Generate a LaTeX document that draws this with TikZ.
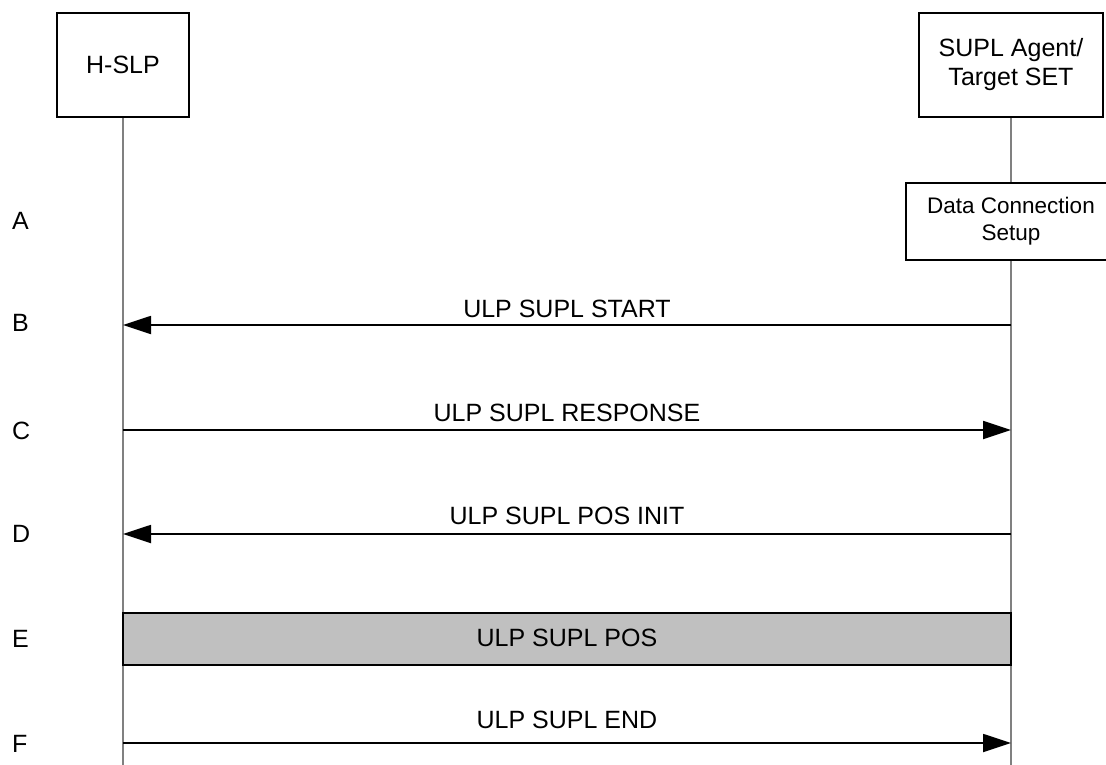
\documentclass[tikz,border=0pt]{standalone}
\usepackage{fontspec}
\setmainfont{Liberation Sans}
\usetikzlibrary{arrows.meta,backgrounds}
\begin{document}
\begin{tikzpicture}[x=1pt,y=-1pt,
  every node/.style={font=\fontsize{25}{29}\selectfont, inner sep=0pt},
  entity/.style={draw=black, line width=1.8pt, fill=white, align=center},
  lifeline/.style={draw=gray, line width=1.4pt},
  msg/.style={draw=black, line width=1.8pt, -{Triangle[length=28pt,width=18pt]}},
  rowlbl/.style={anchor=base west},
  msglbl/.style={anchor=base},
  posbox/.style={draw=black, line width=1.6pt, fill={rgb,255:red,192;green,192;blue,192}},
  smalltext/.style={font=\fontsize{22.5}{27}\selectfont}
]
\useasboundingbox (0,0) rectangle (1106,765);

% entities
\node[entity, minimum width=132pt, minimum height=104pt] (hslp) at (123,65) {H-SLP};
\node[entity, minimum width=184pt, minimum height=104pt] (agent) at (1011,65) {SUPL Agent/\\Target SET};
\node[entity, smalltext, minimum width=210pt, minimum height=77pt] (dcs) at (1011,221.5) {Data Connection\\Setup};

% lifeline bottoms
\coordinate (hbot) at (123,765);
\coordinate (abot) at (1011,765);

\begin{scope}[on background layer]
  \fill[white] (0,0) rectangle (1106,765);
  \draw[lifeline] (hslp.south) -- (hbot);
  \draw[lifeline] (agent.south) -- (abot);
\end{scope}

% message end points
\coordinate (bL) at (123,325);   \coordinate (bR) at (1011,325);
\coordinate (cL) at (123,430);   \coordinate (cR) at (1011,430);
\coordinate (dL) at (123,534);   \coordinate (dR) at (1011,534);
\coordinate (fL) at (123,743);   \coordinate (fR) at (1011,743);

\draw[msg] (bR) -- (bL);
\draw[msg] (cL) -- (cR);
\draw[msg] (dR) -- (dL);
\draw[msg] (fL) -- (fR);

\node[msglbl] (lb) at (567,317) {ULP SUPL START};
\node[msglbl] (lc) at (567,421) {ULP SUPL RESPONSE};
\node[msglbl] (ld) at (567,524) {ULP SUPL POS INIT};
\node[msglbl] (lf) at (567,728) {ULP SUPL END};

% positioning box
\node[posbox, minimum width=888pt, minimum height=52pt] (pos) at (567,639) {};
\node[msglbl] (lpos) at (567,646) {ULP SUPL POS};

% row letters
\node[rowlbl] (ra) at (12,229) {A};
\node[rowlbl] (rb) at (12,331) {B};
\node[rowlbl] (rc) at (12,439) {C};
\node[rowlbl] (rd) at (12,542) {D};
\node[rowlbl] (re) at (12,647) {E};
\node[rowlbl] (rf) at (12,752) {F};
\end{tikzpicture}
\end{document}
